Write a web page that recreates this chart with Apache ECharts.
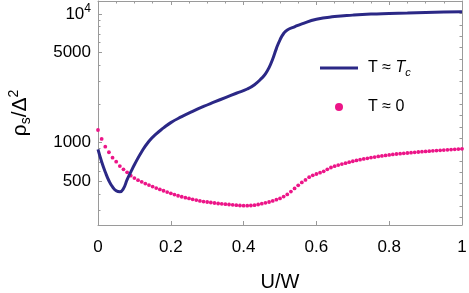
<!DOCTYPE html>
<html><head><meta charset="utf-8">
<script src="https://cdn.jsdelivr.net/npm/echarts@6/dist/echarts.min.js"></script>
<style>html,body{margin:0;padding:0;background:#fff}#c{width:469px;height:293px}</style>
</head><body><div id="c"></div>
<script>
// T ≈ Tc curve (solid navy line)
const navyU = [0,0.01,0.02,0.03,0.04,0.05,0.06,0.07,0.08,0.09,0.10,0.12,0.14,0.16,0.18,0.20,0.23,0.26,0.29,0.32,0.35,0.38,0.41,0.43,0.45,0.46,0.47,0.48,0.49,0.50,0.51,0.52,0.54,0.56,0.60,0.65,0.70,0.75,0.80,0.85,0.90,0.95,1.00];
const navyRho = [885,710,590,505,452,422,414,440,515,590,672,849,1025,1170,1300,1430,1590,1750,1910,2070,2240,2420,2610,2820,3170,3420,3830,4470,5380,6300,7050,7510,7950,8380,9100,9550,9800,9980,10080,10170,10260,10350,10430];
// T ≈ 0 curve (pink dots)
const pinkU = [0,0.01,0.02,0.03,0.04,0.05,0.06,0.07,0.08,0.09,
0.10,0.11,0.12,0.13,0.14,0.15,0.16,0.17,0.18,0.19,
0.20,0.21,0.22,0.23,0.24,0.25,0.26,0.27,0.28,0.29,
0.30,0.31,0.32,0.33,0.34,0.35,0.36,0.37,0.38,0.39,
0.40,0.41,0.42,0.43,0.44,0.45,0.46,0.47,0.48,0.49,
0.50,0.51,0.52,0.53,0.54,0.55,0.56,0.57,0.58,0.59,
0.60,0.61,0.62,0.63,0.64,0.65,0.66,0.67,0.68,0.69,
0.70,0.71,0.72,0.73,0.74,0.75,0.76,0.77,0.78,0.79,
0.80,0.81,0.82,0.83,0.84,0.85,0.86,0.87,0.88,0.89,
0.90,0.91,0.92,0.93,0.94,0.95,0.96,0.97,0.98,0.99,1.00];
const pinkRho = [1253,1067,929,841,763,710,657,620,587,553,
530,510,495,480,467,455,443,432,422,412,
403,394,386,379,373,368,362,357,352,348,
345,342,339,336,334,332,330,328,326,324,
323,323,324,326,330,335,340,345,352,360,
368,380,395,416,440,465,490,512,538,556,
570,583,598,620,640,655,668,680,692,704,
716,727,737,746,755,764,772,780,788,795,
802,809,815,820,825,830,835,840,845,850,
854,858,863,867,871,875,879,883,887,891,895];

const yMajorTicks = [500, 1000, 5000, 10000];
const yMinorTicks = [300,400,600,700,800,900,2000,3000,4000,6000,7000,8000,9000];
const yMin = 228.6, yMax = 12620;
// right frame: evenly spaced (in log) unlabeled ticks
const rightTickStartLog = 2.416, rightTickStepLog = 0.0882, rightTickCount = 19;

const NAVY = '#2b2886', PINK = '#ec1588', FRAME = '#9a9a9a';
const FONT = 'Liberation Sans';
const lmin = Math.log10(yMin), lmax = Math.log10(yMax);
const rightTicks = [];
for (let k = 0; k < rightTickCount; k++) rightTicks.push(rightTickStartLog + k * rightTickStepLog);

const chart = echarts.init(document.getElementById('c'), null, {renderer: 'canvas'});
const decoY = (extra) => Object.assign({
  type: 'value', min: lmin, max: lmax, gridIndex: 0,
  splitLine: {show: false}, axisLine: {show: false}, axisLabel: {show: false},
  axisTick: {show: false}
}, extra);

chart.setOption({
  animation: false,
  textStyle: {fontFamily: FONT},
  grid: {left: 98, right: 7, top: 1, bottom: 68, containLabel: false, outerBoundsMode: 'none'},
  legend: {
    left: 315, top: 55, orient: 'vertical', itemWidth: 38, itemHeight: 8, itemGap: 21,
    data: [
      {name: 'Tc', icon: 'path://M0,0L38,0L38,3L0,3Z'},
      {name: 'T0', icon: 'circle'}
    ],
    formatter: n => n === 'Tc' ? '{g|}{a|T ≈ }{i|T}{c|c}' : '{g|}{a|T ≈ 0}',
    textStyle: {
      color: '#000', fontFamily: FONT,
      rich: {
        g: {width: 5},
        a: {fontSize: 16, lineHeight: 20, color: '#000', fontFamily: FONT},
        i: {fontSize: 16, lineHeight: 20, fontStyle: 'italic', color: '#000', fontFamily: FONT},
        c: {fontSize: 11, fontStyle: 'italic', verticalAlign: 'bottom', lineHeight: 12, color: '#000', fontFamily: FONT}
      }
    }
  },
  xAxis: [
    {
      type: 'value', min: 0, max: 1, interval: 0.2, position: 'bottom',
      name: 'U/W', nameLocation: 'middle', nameGap: 47,
      nameTextStyle: {fontSize: 20, color: '#000', fontFamily: FONT},
      axisLine: {show: true, onZero: false, lineStyle: {color: FRAME, width: 1}},
      axisTick: {show: true, inside: true, length: 4, lineStyle: {color: FRAME}},
      axisLabel: {fontSize: 17, color: '#000', margin: 14, fontFamily: FONT},
      splitLine: {show: false}
    },
    {
      type: 'value', min: 0, max: 1, interval: 0.2, position: 'top',
      axisLine: {show: true, onZero: false, lineStyle: {color: FRAME, width: 1}},
      axisTick: {show: true, inside: true, length: 4, lineStyle: {color: FRAME}},
      minorTick: {show: true, splitNumber: 4, length: 2.5, lineStyle: {color: FRAME}},
      axisLabel: {show: false}, splitLine: {show: false}
    }
  ],
  yAxis: [
    {
      type: 'log', min: yMin, max: yMax, position: 'left',
      name: '{r|ρ}{s|s}{n|/Δ}{p|2}', nameLocation: 'middle', nameRotate: 90, nameGap: 65,
      nameTextStyle: {
        color: '#000', fontFamily: FONT,
        rich: {
          r: {fontSize: 21, lineHeight: 26, color: '#000', fontFamily: FONT},
          s: {fontSize: 14, verticalAlign: 'bottom', lineHeight: 15, color: '#000', fontFamily: FONT},
          n: {fontSize: 21, lineHeight: 26, color: '#000', fontFamily: FONT},
          p: {fontSize: 14, verticalAlign: 'top', lineHeight: 14, color: '#000', fontFamily: FONT}
        }
      },
      axisLine: {show: true, onZero: false, lineStyle: {color: FRAME, width: 1}},
      axisTick: {show: false}, axisLabel: {show: false}, splitLine: {show: false}, minorTick: {show: false}
    },
    decoY({
      position: 'left',
      axisTick: {show: true, inside: true, length: 4, lineStyle: {color: FRAME}, customValues: yMajorTicks.map(Math.log10)},
      axisLabel: {
        show: true, fontSize: 17, color: '#000', margin: 7, fontFamily: FONT,
        customValues: yMajorTicks.map(Math.log10),
        formatter: v => { const r = Math.round(Math.pow(10, v)); return r === 10000 ? '{b|10}{p|4}' : String(r); },
        rich: {
          b: {fontSize: 17, lineHeight: 22, color: '#000', fontFamily: FONT},
          p: {fontSize: 12, lineHeight: 12, verticalAlign: 'top', color: '#000', fontFamily: FONT}
        }
      }
    }),
    decoY({
      position: 'left',
      axisTick: {show: true, inside: true, length: 2.5, lineStyle: {color: FRAME}, customValues: yMinorTicks.map(Math.log10)}
    }),
    decoY({
      position: 'right',
      axisLine: {show: true, onZero: false, lineStyle: {color: FRAME, width: 1}},
      axisTick: {show: true, inside: true, length: 2.5, lineStyle: {color: FRAME}, customValues: rightTicks}
    })
  ],
  series: [
    {
      name: 'Tc', type: 'line', xAxisIndex: 0, yAxisIndex: 0,
      data: navyU.map((u, i) => [u, navyRho[i]]),
      symbol: 'none', smooth: 0.5,
      lineStyle: {color: NAVY, width: 3}, itemStyle: {color: NAVY}
    },
    {
      name: 'T0', type: 'scatter', xAxisIndex: 0, yAxisIndex: 0,
      data: pinkU.map((u, i) => [u, pinkRho[i]]),
      symbol: 'circle', symbolSize: 3.8,
      itemStyle: {color: PINK, opacity: 1}
    }
  ]
});
</script>
</body></html>
